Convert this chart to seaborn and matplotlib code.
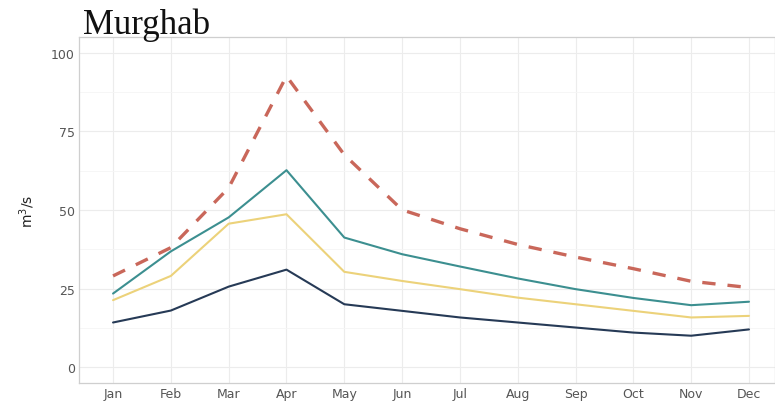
import matplotlib
matplotlib.use("Agg")
import matplotlib.pyplot as plt
import seaborn as sns
import pandas as pd

months = ["Jan", "Feb", "Mar", "Apr", "May", "Jun", "Jul", "Aug", "Sep", "Oct", "Nov", "Dec"]
series_upper = [29.0, 38.0, 57.0, 92.5, 67.5, 50.0, 44.0, 39.0, 35.0, 31.3, 27.3, 25.3]
series_high = [23.4, 36.8, 47.6, 62.6, 41.2, 35.9, 32.0, 28.2, 24.8, 22.0, 19.7, 20.8]
series_mid = [21.3, 29.0, 45.6, 48.6, 30.3, 27.4, 24.8, 22.1, 20.0, 17.9, 15.8, 16.3]
series_low = [14.2, 18.0, 25.6, 31.0, 20.0, 17.9, 15.8, 14.2, 12.6, 11.0, 10.0, 12.0]
series_names = ["upper", "high", "mid", "low"]
y_ticks = [0, 25, 50, 75, 100]
title = "Murghab"
y_label = "m$^3$/s"

rows = []
for name, vals in zip(series_names, [series_upper, series_high, series_mid, series_low]):
    for i, (m, v) in enumerate(zip(months, vals)):
        rows.append({"month": m, "idx": i, "value": v, "series": name})
df = pd.DataFrame(rows)

sns.set_theme(style="whitegrid")
plt.rcParams["font.family"] = ["DejaVu Sans"]

fig = plt.figure(figsize=(7.75, 4.02), dpi=100)
ax = fig.add_axes([0.102, 0.045, 0.898, 0.861])

palette = {"upper": "#c9675a", "high": "#3c8f90", "mid": "#ecd27a", "low": "#263a56"}
widths = {"upper": 2.4, "high": 1.5, "mid": 1.5, "low": 1.5}

for name in series_names:
    sub = df[df["series"] == name]
    sns.lineplot(data=sub, x="idx", y="value", color=palette[name], ax=ax,
                 linewidth=widths[name], legend=False)
    line = ax.lines[-1]
    if name == "upper":
        line.set_dashes((4, 3.6))

ax.set_xlim(-0.588, 11.45)
ax.set_ylim(-5, 105)
ax.set_xticks(range(len(months)))
ax.set_xticklabels(months)
ax.set_yticks(y_ticks)
ax.set_yticks([12.5, 37.5, 62.5, 87.5], minor=True)
ax.set_xlabel("")
ax.set_ylabel(y_label, fontsize=10, color="#222222", labelpad=10)

ax.set_facecolor("white")
ax.grid(which="major", color="#ececec", linewidth=0.8)
ax.grid(which="minor", axis="y", color="#f5f5f5", linewidth=0.6)
for s in ax.spines.values():
    s.set_visible(True)
    s.set_color("#cfcfcf")
    s.set_linewidth(0.9)
ax.tick_params(axis="both", which="major", labelsize=9, labelcolor="#555555",
               length=2, width=0.7, color="#bbbbbb", pad=1)
ax.tick_params(axis="both", which="minor", length=0)

fig.text(0.107, 0.915, title, fontsize=25, family="Liberation Serif",
         color="#111111", ha="left", va="baseline")

fig.savefig("out.png", dpi=100)
